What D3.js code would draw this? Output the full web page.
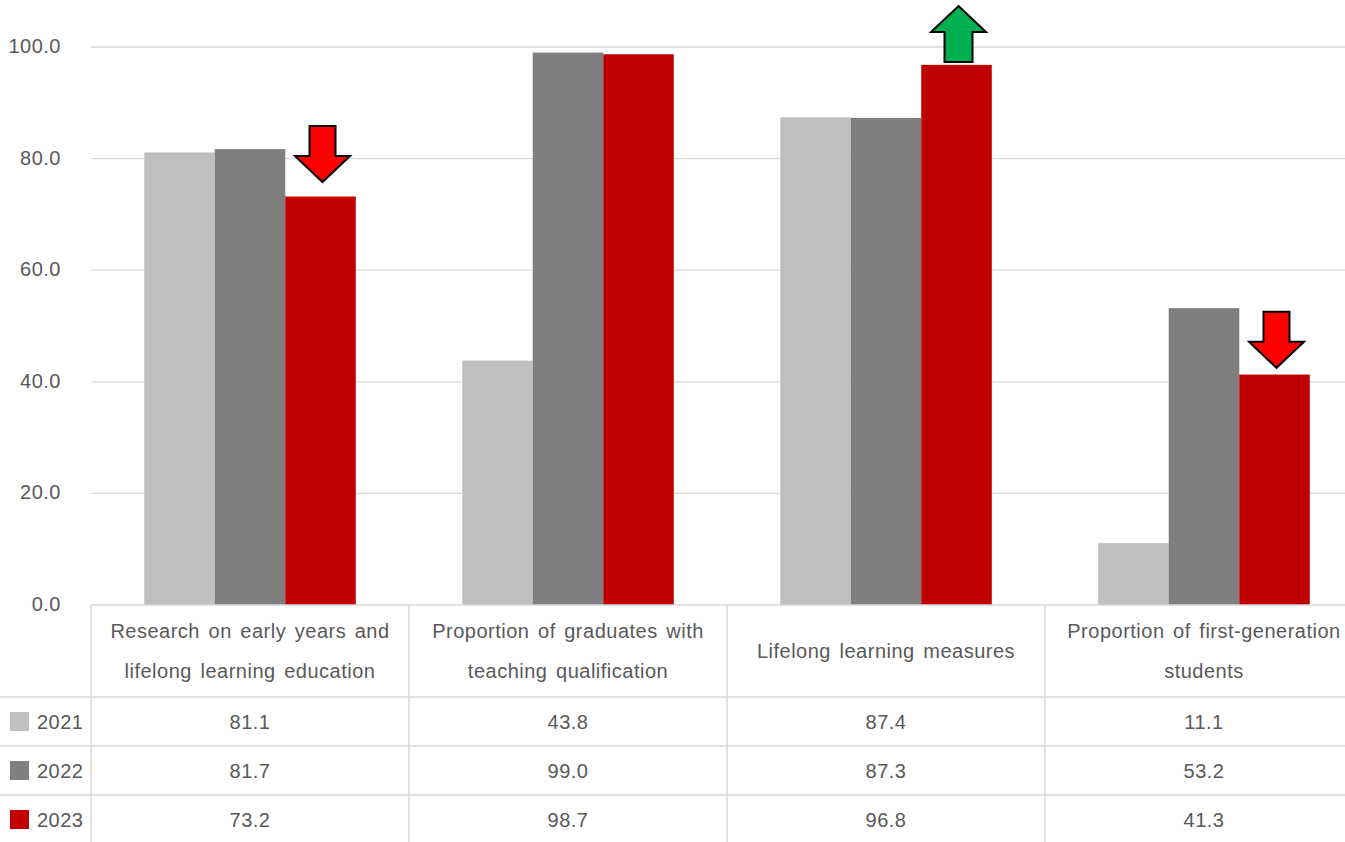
<!DOCTYPE html>
<html>
<head>
<meta charset="utf-8">
<script src="https://cdn.jsdelivr.net/npm/d3@7"></script>
<style>
  html, body { margin: 0; padding: 0; background: #fff; }
  svg { display: block; font-family: "Liberation Sans", Arial, sans-serif; }
  svg text { letter-spacing: 0.5px; word-spacing: 2.5px; }
</style>
</head>
<body>
<svg id="chart" width="1345" height="842"></svg>
<script>
// ---- data ----
const categories = [
  "Research on early years and lifelong learning education",
  "Proportion of graduates with teaching qualification",
  "Lifelong learning measures",
  "Proportion of first-generation students"
];
const years = ["2021", "2022", "2023"];
const values2021 = [81.1, 43.8, 87.4, 11.1];
const values2022 = [81.7, 99.0, 87.3, 53.2];
const values2023 = [73.2, 98.7, 96.8, 41.3];
const yTicks = [0, 20, 40, 60, 80, 100];
const trendDirection = ["down", null, "up", "down"];
const trendAnchor = [75.8, null, 97.3, 42.5];

const seriesValues = [values2021, values2022, values2023];
const colors = ["#BFBFBF", "#7F7F7F", "#C00000"];
const textColor = "#595959";
const lineColor = "#D9D9D9";

// ---- layout ----
const W = 1345, H = 842;
const plotLeft = 91, catWidth = 318;
const plotTop = 47, plotBottom = 605;
const headerBottom = 697, rowH = 49;

const svg = d3.select("#chart");

const x0 = d3.scaleBand().domain(categories)
  .range([plotLeft, plotLeft + catWidth * categories.length]).padding(0);
const x1 = d3.scaleBand().domain(years).range([0, x0.bandwidth()])
  .paddingInner(0).paddingOuter(0.755);
const y = d3.scaleLinear().domain([0, 100]).range([plotBottom, plotTop]);

// gridlines
svg.append("g").selectAll("line").data(yTicks.filter(t => t > 0)).join("line")
  .attr("x1", plotLeft).attr("x2", W)
  .attr("y1", d => y(d)).attr("y2", d => y(d))
  .attr("stroke", lineColor).attr("stroke-width", 1.3);

// y axis labels
const yAxis = d3.axisLeft(y).tickValues(yTicks).tickFormat(d3.format(".1f")).tickSize(0).tickPadding(0);
const gy = svg.append("g").attr("transform", `translate(61,-1)`).call(yAxis);
gy.select(".domain").remove();
gy.selectAll("text").attr("fill", textColor).style("font-size", "20px")
  .style("font-family", '"Liberation Sans", Arial, sans-serif');

// bars
const groups = svg.append("g").selectAll("g").data(categories).join("g")
  .attr("transform", d => `translate(${x0(d)},0)`);
groups.selectAll("rect")
  .data((c, i) => years.map((yr, s) => ({ yr, s, v: seriesValues[s][i] })))
  .join("rect")
  .attr("x", d => x1(d.yr))
  .attr("width", x1.bandwidth())
  .attr("y", d => y(d.v))
  .attr("height", d => y(0) - y(d.v))
  .attr("fill", d => colors[d.s]);

// trend arrows
const aw = 55, shaftW = 26, headH = 26, totalH = 56;
categories.forEach((c, i) => {
  const dir = trendDirection[i];
  if (!dir) return;
  const cx = x0(c) + x1("2023") + x1.bandwidth() / 2 + 2;
  const yb = y(trendAnchor[i]);
  let pts;
  if (dir === "down") {
    const top = yb - totalH, hs = yb - headH;
    pts = [[cx - shaftW/2, top], [cx + shaftW/2, top], [cx + shaftW/2, hs], [cx + aw/2, hs],
           [cx, yb], [cx - aw/2, hs], [cx - shaftW/2, hs]];
  } else {
    const top = yb - totalH, hs = top + headH;
    pts = [[cx, top], [cx + aw/2, hs], [cx + shaftW/2 + 1, hs], [cx + shaftW/2 + 1, yb],
           [cx - shaftW/2 - 1, yb], [cx - shaftW/2 - 1, hs], [cx - aw/2, hs]];
  }
  svg.append("path").attr("d", d3.line()(pts) + "Z")
    .attr("fill", dir === "down" ? "#FF0000" : "#00B050")
    .attr("stroke", "#000").attr("stroke-width", 2).attr("stroke-linejoin", "miter");
});

// ---- data table ----
const tbl = svg.append("g");
tbl.append("line").attr("x1", plotLeft).attr("x2", W).attr("y1", plotBottom).attr("y2", plotBottom)
  .attr("stroke", lineColor).attr("stroke-width", 1.6);
years.forEach((yr, r) => {
  const yy = headerBottom + r * rowH;
  tbl.append("line").attr("x1", 0).attr("x2", W).attr("y1", yy).attr("y2", yy)
    .attr("stroke", lineColor).attr("stroke-width", 1.6);
});
tbl.append("line").attr("x1", 0).attr("x2", W).attr("y1", headerBottom + 3 * rowH).attr("y2", headerBottom + 3 * rowH)
  .attr("stroke", lineColor).attr("stroke-width", 1.6);
d3.range(categories.length + 1).forEach(k => {
  const xx = plotLeft + k * catWidth;
  tbl.append("line").attr("x1", xx).attr("x2", xx).attr("y1", plotBottom).attr("y2", H + 5)
    .attr("stroke", lineColor).attr("stroke-width", 1.6);
});

// category header text with wrapping
const headerCenter = (plotBottom + headerBottom) / 2;
function wrapLines(text, maxW) {
  const tmp = svg.append("text").style("font-size", "20px");
  const words = text.split(" ");
  const lines = [];
  let cur = "";
  words.forEach(w => {
    const t = cur ? cur + " " + w : w;
    tmp.text(t);
    if (tmp.node().getComputedTextLength() > maxW && cur) { lines.push(cur); cur = w; }
    else cur = t;
  });
  if (cur) lines.push(cur);
  tmp.remove();
  return lines;
}
categories.forEach(c => {
  const lines = wrapLines(c, 300);
  const lh = 40;
  const cx = x0(c) + x0.bandwidth() / 2;
  const t = tbl.append("text").attr("text-anchor", "middle").attr("fill", textColor)
    .style("font-size", "20px");
  lines.forEach((ln, k) => {
    t.append("tspan").attr("x", cx)
      .attr("y", headerCenter + (k - (lines.length - 1) / 2) * lh)
      .attr("dy", "0.35em").text(ln);
  });
});

// value rows
years.forEach((yr, r) => {
  const cy = headerBottom + r * rowH + rowH / 2;
  tbl.append("rect").attr("x", 10).attr("y", cy - 9.5).attr("width", 19).attr("height", 19)
    .attr("fill", colors[r]);
  tbl.append("text").attr("x", 37).attr("y", cy).attr("dy", "0.35em")
    .attr("fill", textColor).style("font-size", "20px").text(yr);
  categories.forEach((c, i) => {
    tbl.append("text").attr("x", x0(c) + x0.bandwidth() / 2).attr("y", cy).attr("dy", "0.35em")
      .attr("text-anchor", "middle").attr("fill", textColor).style("font-size", "20px")
      .text(d3.format(".1f")(seriesValues[r][i]));
  });
});
</script>
</body>
</html>
